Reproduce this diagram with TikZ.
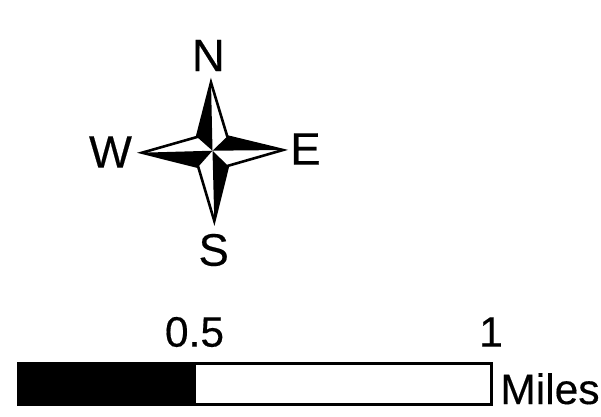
\documentclass[tikz,border=0pt]{standalone}
\usepackage{fontspec}
\setmainfont{Liberation Sans}
\newfontfamily\heavier[FakeBold=0.35]{Liberation Sans}
\tikzset{
  lbl/.style={inner sep=0pt,font=\heavier\fontsize{45.5}{45.5}\selectfont,text=black},
  scl/.style={inner sep=0pt,font=\heavier\fontsize{42.5}{42.5}\selectfont,text=black},
  staroutline/.style={draw=black,line width=2.6pt,line join=miter,miter limit=10}
}
\begin{document}
\begin{tikzpicture}[x=1pt,y=-1pt]
\useasboundingbox (0,0) rectangle (601,416);
\coordinate (c) at (212.5,150.7);
\coordinate (n) at (211,82.5);
\coordinate (e) at (283,150);
\coordinate (s) at (214.3,221);
\coordinate (w) at (142,152.7);
\coordinate (ne) at (227.3,136.5);
\coordinate (se) at (228,165.8);
\coordinate (sw) at (198.2,166.8);
\coordinate (nw) at (197,137);
\fill[white] (n)--(ne)--(e)--(se)--(s)--(sw)--(w)--(nw)--cycle;
\fill[black] (n)--(c)--(nw)--cycle;
\fill[black] (e)--(c)--(ne)--cycle;
\fill[black] (s)--(c)--(se)--cycle;
\fill[black] (w)--(c)--(sw)--cycle;
\draw[staroutline] (n)--(ne)--(e)--(se)--(s)--(sw)--(w)--(nw)--cycle;
\node[lbl] (N) at (208.3,55.5) {N};
\node[lbl] (E) at (305.5,149) {E};
\node[lbl] (S) at (213.7,250) {S};
\node[lbl] (W) at (110.5,152) {W};
\fill[black] (17.3,362.3) rectangle (195.5,405.7);
\draw[black,line width=2.4pt] (18.5,363.5) rectangle (491.5,404.5);
\node[scl] (half) at (194.5,332) {0.5};
\node[scl] (one) at (491,332) {1};
\node[scl] (miles) at (550,388.8) {Miles};
\end{tikzpicture}
\end{document}
